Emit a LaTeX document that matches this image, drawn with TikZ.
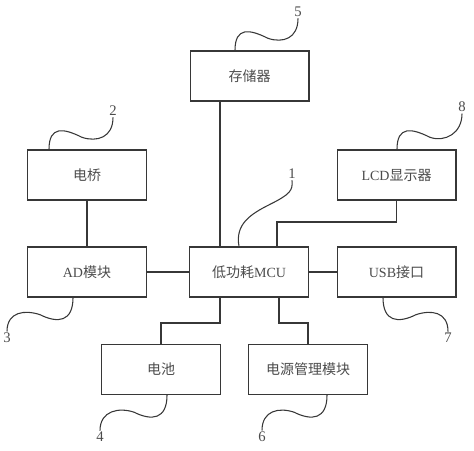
\documentclass[tikz,border=0pt]{standalone}
\usepackage{fontspec}
\setmainfont{Liberation Serif}
\newfontfamily\cjk{Noto Sans CJK SC}
\usepackage{tikz}
\usetikzlibrary{positioning}
\definecolor{linegray}{RGB}{55,55,55}
\definecolor{textgray}{RGB}{75,75,75}

\begin{document}
\begin{tikzpicture}[x=0.75pt,y=-0.75pt,
    unit/.style={draw=linegray, line width=1pt, minimum width=89pt, minimum height=37.5pt,
      inner sep=0pt, text=textgray, font=\fontsize{10.5}{12}\selectfont},
    tag/.style={inner sep=1pt, text=textgray, font=\fontsize{11}{12}\selectfont},
    wire/.style={draw=linegray, line width=1pt},
    lead/.style={draw=linegray, line width=0.8pt}]
  \useasboundingbox (0,0) rectangle (474,450);

  % blocks
  \node[unit] (mem) at (249.5,76) {\cjk 存储器};
  \node[unit] (bridge) at (87,175) {\cjk 电桥};
  \node[unit] (lcd) at (396.5,175) {LCD{\cjk 显示器}};
  \node[unit] (ad) at (87,272) {AD{\cjk 模块}};
  \node[unit] (mcu) at (249,272) {{\cjk 低功耗}MCU};
  \node[unit] (usb) at (396.5,272) {USB{\cjk 接口}};
  \node[unit] (bat) at (161,369.5) {\cjk 电池};
  \node[unit] (pwr) at (308,369.5) {\cjk 电源管理模块};

  % connections
  \draw[wire] (mcu.north -| 220,0) -- (mem.south -| 220,0);
  \draw[wire] (bridge) -- (ad);
  \draw[wire] (ad) -- (mcu);
  \draw[wire] (mcu) -- (usb);
  \draw[wire] (mcu.north -| 277,0) |- (lcd.south |- 0,222) -- (lcd.south);
  \draw[wire] (mcu.south -| 220,0) |- (bat.north |- 0,323) -- (bat.north);
  \draw[wire] (mcu.south -| 279,0) |- (pwr.north |- 0,323) -- (pwr.north);

  % reference numbers
  \node[tag] (n1) at (292,174) {1};
  \node[tag] (n2) at (113,111) {2};
  \node[tag] (n3) at (7,338) {3};
  \node[tag] (n4) at (100,437) {4};
  \node[tag] (n5) at (298,12) {5};
  \node[tag] (n6) at (262,437) {6};
  \node[tag] (n7) at (448,338) {7};
  \node[tag] (n8) at (462,107) {8};

  % leader lines
  \draw[lead] (mem.north -| 235,0) .. controls +(0,-24) and +(-18,-9) .. ++(33,-12)
    .. controls +(15,5) and +(0,20) .. (n5.south);
  \draw[lead] (bridge.north -| 49,0) .. controls +(0,-24) and +(-18,-9) .. ++(33,-12)
    .. controls +(15,5) and +(0,20) .. (n2.south);
  \draw[lead] (lcd.north -| 397,0) .. controls +(0,-24) and +(-18,-9) .. ++(33,-12)
    .. controls +(15,5) and +(0,20) .. (n8.south);
  \draw[lead] (mcu.north -| 239,0) .. controls +(-4,-22) and +(-20,10) .. ++(31,-42)
    .. controls +(20,-10) and +(1,10) .. (n1.south);
  \draw[lead] (ad.south -| 73,0) .. controls +(0,24) and +(18,9) .. ++(-33,17)
    .. controls +(-15,-5) and +(0,-20) .. (n3.north);
  \draw[lead] (bat.south -| 167,0) .. controls +(0,24) and +(18,9) .. ++(-33,17)
    .. controls +(-15,-5) and +(0,-20) .. (n4.north);
  \draw[lead] (pwr.south -| 327,0) .. controls +(0,24) and +(18,9) .. ++(-33,17)
    .. controls +(-15,-5) and +(0,-20) .. (n6.north);
  \draw[lead] (usb.south -| 383,0) .. controls +(0,24) and +(-18,9) .. ++(33,17)
    .. controls +(15,-5) and +(0,-20) .. (n7.north);
\end{tikzpicture}
\end{document}
